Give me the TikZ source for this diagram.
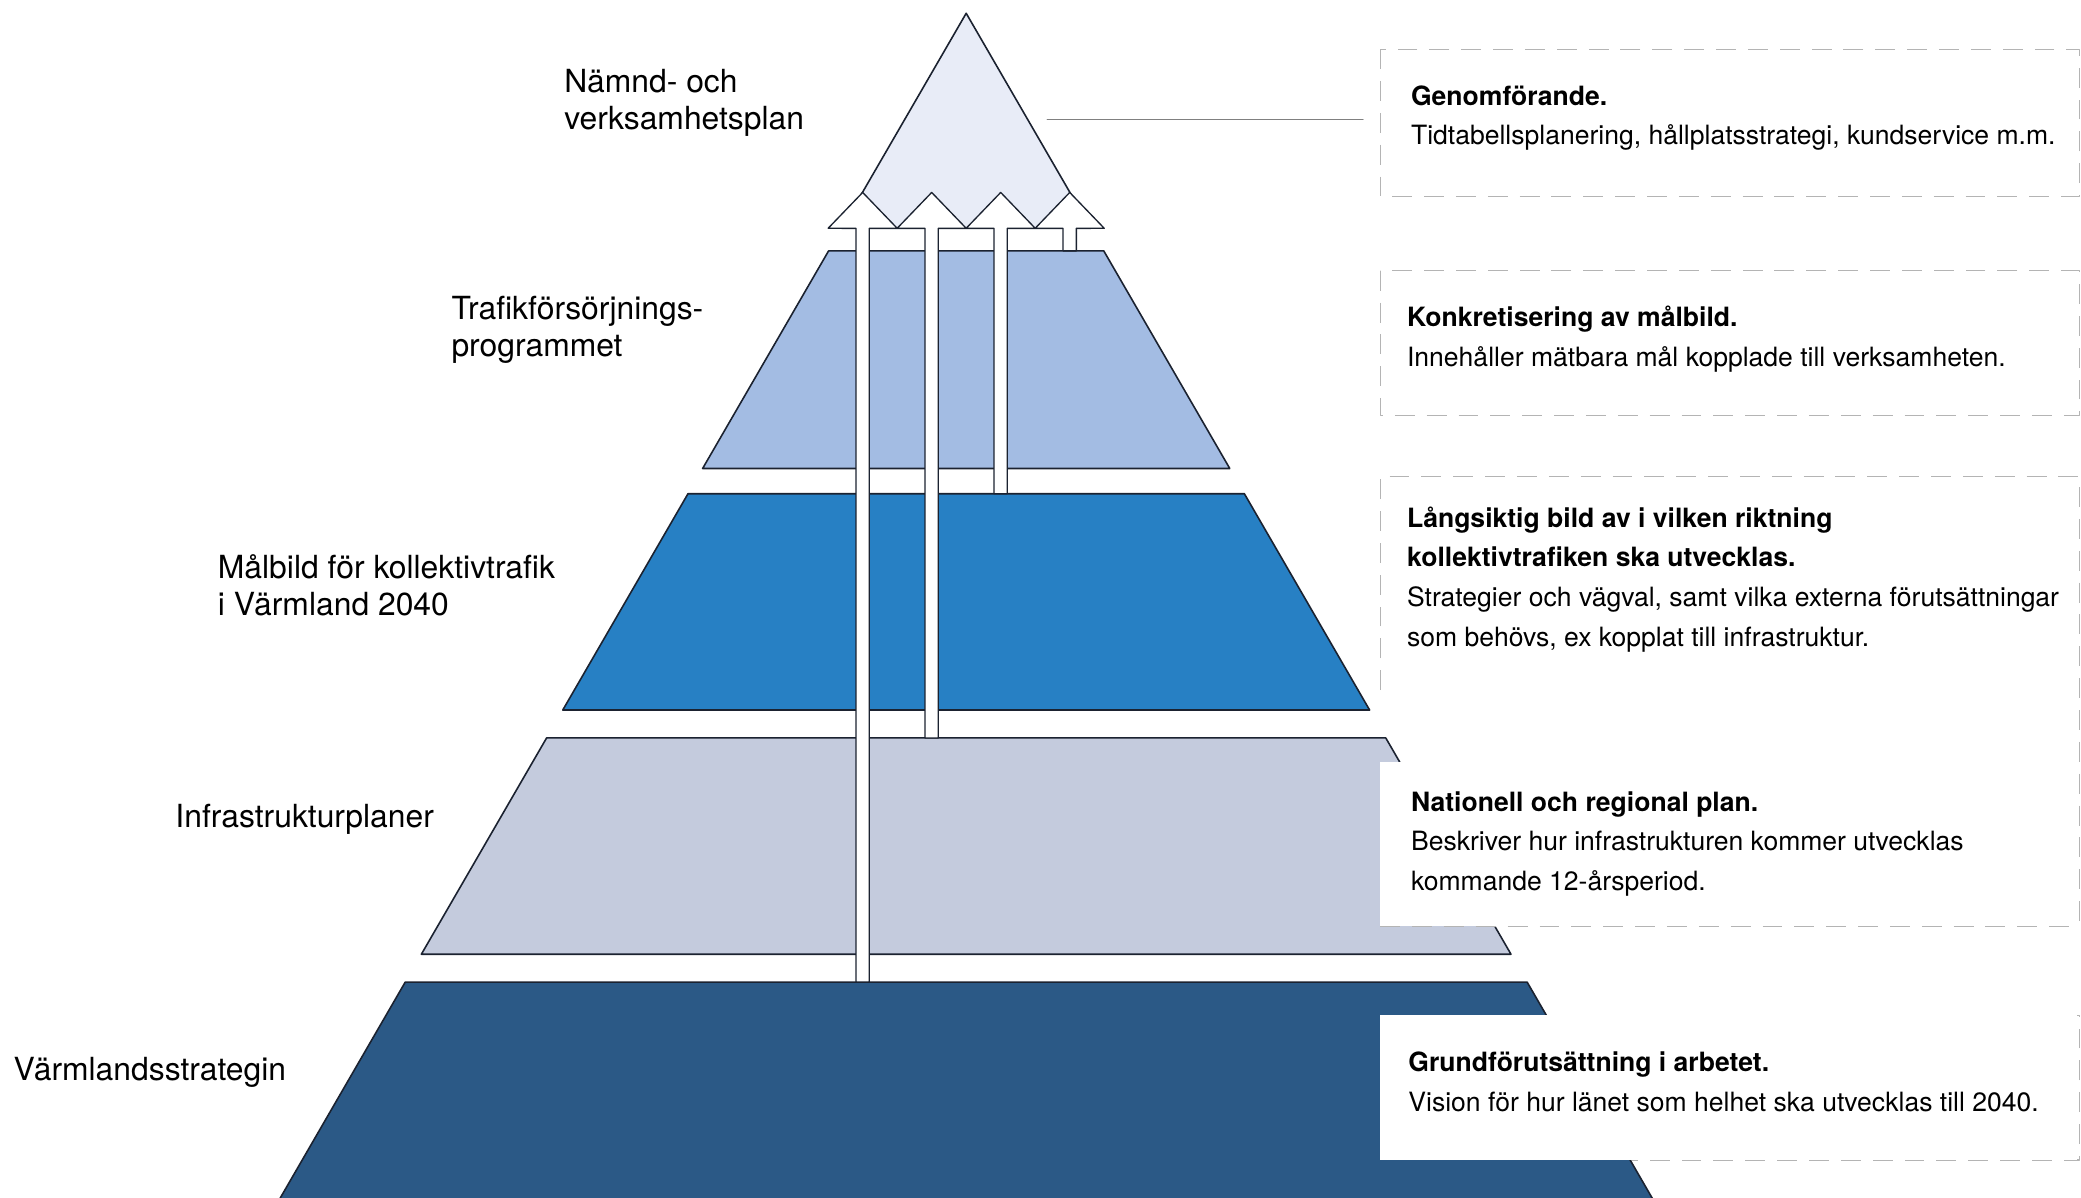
\documentclass[tikz,border=0pt]{standalone}
\usepackage{fontspec}
\setmainfont{TeX Gyre Heros}
\usepackage{tikz}
\usetikzlibrary{arrows}
\definecolor{toppen}{HTML}{E8ECF7}
\definecolor{trafik}{HTML}{A3BCE3}
\definecolor{malbild}{HTML}{2780C4}
\definecolor{infra}{HTML}{C4CBDD}
\definecolor{strategi}{HTML}{2B5986}
\definecolor{kant}{HTML}{1B2230}
\definecolor{streck}{HTML}{B4B4B4}

\begin{document}
\begin{tikzpicture}[line cap=round,line join=round,x=1pt,y=-1pt,
        niva/.style={draw=kant,line width=1.2pt},
        ruta/.style={draw=streck,line width=0.9pt,line cap=butt,dash pattern=on 15pt off 9pt},
        vtext/.style={anchor=north west,inner sep=0pt,align=left,font=\fontsize{24}{28}\selectfont},
        htext/.style={anchor=north west,inner sep=0pt,align=left,font=\fontsize{20}{30}\selectfont}]
        \useasboundingbox (0,0) rectangle (1568,902);
        \clip (0,0) rectangle (1568,902);
        \draw[ruta] (1040,37) rectangle (1567,148);
        \draw[ruta] (1040,204) rectangle (1567,313);
        \draw[ruta] (1040,520) -- (1040,359) -- (1567,359) -- (1567,698);
        \draw[ruta] (1040,765) rectangle (1567,874);
        \filldraw[niva,fill=toppen] (728,10) -- ({728-0.579*162},172) -- ({728+0.579*162},172) -- cycle;
        \foreach \yt/\yb/\fc in {189/353/trafik,372/535/malbild,556/719/infra,740/915/strategi}
          \filldraw[niva,fill=\fc] ({728-0.579*(\yt-10)},\yt) -- ({728+0.579*(\yt-10)},\yt)
            -- ({728+0.579*(\yb-10)},\yb) -- ({728-0.579*(\yb-10)},\yb) -- cycle;
        \fill[white] (1040,574) rectangle (1565,698);
        \fill[white] (1040,765) rectangle (1565,874);
        \draw[ruta] (1040,698) -- (1567,698);
        \foreach \px/\pb in {650/740,702/556,754/372,806/189}
          \filldraw[fill=white,draw=kant,line width=1pt] ({\px-5},\pb) -- ({\px-5},172) -- ({\px-26},172)
            -- (\px,145) -- ({\px+26},172) -- ({\px+5},172) -- ({\px+5},\pb) -- cycle;
        \coordinate (spets) at (789,90);
        \coordinate (ruta1) at (1027,90);
        \draw[color=gray,line width=0.8pt] (spets) -- (ruta1);
        \node[vtext] (namnd) at (425,50) {\strut Nämnd- och\\verksamhetsplan};
        \node[vtext] (trafik) at (340,221) {\strut Trafikförsörjnings-\\programmet};
        \node[vtext] (malbild) at (164,416) {\strut Målbild för kollektivtrafik\\i Värmland 2040};
        \node[vtext] (infra) at (132,604) {\strut Infrastrukturplaner};
        \node[vtext] (strategi) at (10,794) {\strut Värmlandsstrategin};
        \node[htext] (genom) at (1063,58) {\strut\textbf{Genomförande.}\\Tidtabellsplanering, hållplatsstrategi, kundservice m.m.};
        \node[htext] (konkret) at (1060,225) {\strut\textbf{Konkretisering av målbild.}\\Innehåller mätbara mål kopplade till verksamheten.};
        \node[htext] (langsiktig) at (1060,376) {\strut\textbf{Långsiktig bild av i vilken riktning}\\\textbf{kollektivtrafiken ska utvecklas.}\\Strategier och vägval, samt vilka externa förutsättningar\\som behövs, ex kopplat till infrastruktur.};
        \node[htext] (nationell) at (1063,590) {\strut\textbf{Nationell och regional plan.}\\Beskriver hur infrastrukturen kommer utvecklas\\kommande 12-årsperiod.};
        \node[htext] (grund) at (1061,786) {\strut\textbf{Grundförutsättning i arbetet.}\\Vision för hur länet som helhet ska utvecklas till 2040.};
      \end{tikzpicture}
\end{document}
